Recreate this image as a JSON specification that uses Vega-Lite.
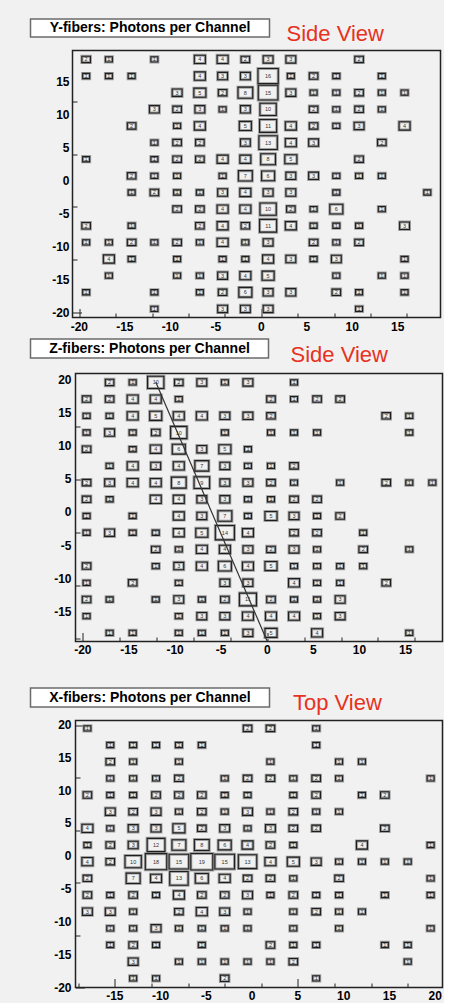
{
"$schema": "https://vega.github.io/schema/vega-lite/v6.json",
"background": "#f1f1f1",
"padding": {"left": 29.5, "top": 18, "right": 0, "bottom": 0},
"config": {
  "font": "Liberation Sans",
  "view": {"fill": "#f1f1f1", "stroke": "#222222", "strokeWidth": 1.5},
  "axis": {"domain": false, "grid": false, "labels": false, "tickColor": "#222222", "tickWidth": 1}
},
"datasets": {
  "yf": [
    {"x":-19.25,"y":18.35,"n":2},{"x":-16.75,"y":18.35,"n":1},{"x":-11.75,"y":18.35,"n":1},{"x":-6.75,"y":18.35,"n":4},{"x":-4.25,"y":18.35,"n":4},{"x":-1.75,"y":18.35,"n":2},{"x":0.75,"y":18.35,"n":3},{"x":3.25,"y":18.35,"n":3},{"x":10.75,"y":18.35,"n":2},
    {"x":-19.25,"y":15.83,"n":1},{"x":-16.75,"y":15.83,"n":1},{"x":-14.25,"y":15.83,"n":1},{"x":-6.75,"y":15.83,"n":4},{"x":-4.25,"y":15.83,"n":3},{"x":-1.75,"y":15.83,"n":3},{"x":0.75,"y":15.83,"n":16},{"x":3.25,"y":15.83,"n":1},{"x":5.75,"y":15.83,"n":2},{"x":8.25,"y":15.83,"n":1},{"x":13.25,"y":15.83,"n":1},
    {"x":-9.25,"y":13.31,"n":3},{"x":-6.75,"y":13.31,"n":5},{"x":-4.25,"y":13.31,"n":2},{"x":-1.75,"y":13.31,"n":8},{"x":0.75,"y":13.31,"n":15},{"x":3.25,"y":13.31,"n":3},{"x":5.75,"y":13.31,"n":1},{"x":8.25,"y":13.31,"n":1},{"x":10.75,"y":13.31,"n":2},{"x":13.25,"y":13.31,"n":1},{"x":15.75,"y":13.31,"n":1},
    {"x":-11.75,"y":10.79,"n":3},{"x":-9.25,"y":10.79,"n":2},{"x":-6.75,"y":10.79,"n":3},{"x":-4.25,"y":10.79,"n":1},{"x":-1.75,"y":10.79,"n":3},{"x":0.75,"y":10.79,"n":10},{"x":5.75,"y":10.79,"n":2},{"x":8.25,"y":10.79,"n":1},{"x":10.75,"y":10.79,"n":2},{"x":13.25,"y":10.79,"n":1},
    {"x":-14.25,"y":8.27,"n":2},{"x":-9.25,"y":8.27,"n":1},{"x":-6.75,"y":8.27,"n":4},{"x":-1.75,"y":8.27,"n":5},{"x":0.75,"y":8.27,"n":11},{"x":3.25,"y":8.27,"n":4},{"x":5.75,"y":8.27,"n":2},{"x":8.25,"y":8.27,"n":1},{"x":10.75,"y":8.27,"n":3},{"x":15.75,"y":8.27,"n":4},
    {"x":-11.75,"y":5.75,"n":1},{"x":-9.25,"y":5.75,"n":2},{"x":-6.75,"y":5.75,"n":2},{"x":-1.75,"y":5.75,"n":3},{"x":0.75,"y":5.75,"n":13},{"x":3.25,"y":5.75,"n":4},{"x":5.75,"y":5.75,"n":3},{"x":13.25,"y":5.75,"n":2},
    {"x":-19.25,"y":3.23,"n":1},{"x":-11.75,"y":3.23,"n":1},{"x":-9.25,"y":3.23,"n":2},{"x":-6.75,"y":3.23,"n":2},{"x":-4.25,"y":3.23,"n":4},{"x":-1.75,"y":3.23,"n":4},{"x":0.75,"y":3.23,"n":8},{"x":3.25,"y":3.23,"n":5},{"x":10.75,"y":3.23,"n":2},
    {"x":-14.25,"y":0.71,"n":2},{"x":-11.75,"y":0.71,"n":1},{"x":-9.25,"y":0.71,"n":1},{"x":-4.25,"y":0.71,"n":1},{"x":-1.75,"y":0.71,"n":7},{"x":0.75,"y":0.71,"n":6},{"x":3.25,"y":0.71,"n":3},{"x":5.75,"y":0.71,"n":3},{"x":8.25,"y":0.71,"n":1},{"x":10.75,"y":0.71,"n":1},{"x":13.25,"y":0.71,"n":1},
    {"x":-14.25,"y":-1.81,"n":1},{"x":-11.75,"y":-1.81,"n":2},{"x":-9.25,"y":-1.81,"n":1},{"x":-6.75,"y":-1.81,"n":1},{"x":-4.25,"y":-1.81,"n":3},{"x":-1.75,"y":-1.81,"n":4},{"x":0.75,"y":-1.81,"n":3},{"x":3.25,"y":-1.81,"n":3},{"x":8.25,"y":-1.81,"n":1},{"x":18.25,"y":-1.81,"n":1},
    {"x":-9.25,"y":-4.33,"n":2},{"x":-6.75,"y":-4.33,"n":2},{"x":-4.25,"y":-4.33,"n":4},{"x":-1.75,"y":-4.33,"n":4},{"x":0.75,"y":-4.33,"n":10},{"x":3.25,"y":-4.33,"n":2},{"x":5.75,"y":-4.33,"n":1},{"x":8.25,"y":-4.33,"n":6},{"x":13.25,"y":-4.33,"n":1},
    {"x":-19.25,"y":-6.85,"n":2},{"x":-14.25,"y":-6.85,"n":1},{"x":-6.75,"y":-6.85,"n":2},{"x":-4.25,"y":-6.85,"n":4},{"x":-1.75,"y":-6.85,"n":2},{"x":0.75,"y":-6.85,"n":11},{"x":3.25,"y":-6.85,"n":4},{"x":5.75,"y":-6.85,"n":1},{"x":8.25,"y":-6.85,"n":1},{"x":10.75,"y":-6.85,"n":1},{"x":15.75,"y":-6.85,"n":3},
    {"x":-19.25,"y":-9.37,"n":1},{"x":-16.75,"y":-9.37,"n":1},{"x":-14.25,"y":-9.37,"n":2},{"x":-11.75,"y":-9.37,"n":1},{"x":-9.25,"y":-9.37,"n":2},{"x":-6.75,"y":-9.37,"n":1},{"x":-4.25,"y":-9.37,"n":4},{"x":-1.75,"y":-9.37,"n":1},{"x":0.75,"y":-9.37,"n":3},{"x":5.75,"y":-9.37,"n":2},{"x":8.25,"y":-9.37,"n":1},{"x":10.75,"y":-9.37,"n":2},
    {"x":-16.75,"y":-11.89,"n":4},{"x":-14.25,"y":-11.89,"n":1},{"x":-9.25,"y":-11.89,"n":1},{"x":-4.25,"y":-11.89,"n":1},{"x":-1.75,"y":-11.89,"n":1},{"x":0.75,"y":-11.89,"n":4},{"x":3.25,"y":-11.89,"n":3},{"x":5.75,"y":-11.89,"n":1},{"x":8.25,"y":-11.89,"n":3},{"x":15.75,"y":-11.89,"n":1},
    {"x":-16.75,"y":-14.41,"n":1},{"x":-9.25,"y":-14.41,"n":1},{"x":-6.75,"y":-14.41,"n":1},{"x":-4.25,"y":-14.41,"n":3},{"x":-1.75,"y":-14.41,"n":4},{"x":0.75,"y":-14.41,"n":5},{"x":8.25,"y":-14.41,"n":1},{"x":13.25,"y":-14.41,"n":1},{"x":15.75,"y":-14.41,"n":1},
    {"x":-19.25,"y":-16.93,"n":1},{"x":-11.75,"y":-16.93,"n":1},{"x":-6.75,"y":-16.93,"n":1},{"x":-4.25,"y":-16.93,"n":2},{"x":-1.75,"y":-16.93,"n":6},{"x":0.75,"y":-16.93,"n":3},{"x":3.25,"y":-16.93,"n":3},{"x":8.25,"y":-16.93,"n":2},{"x":10.75,"y":-16.93,"n":1},{"x":15.75,"y":-16.93,"n":1},
    {"x":-11.75,"y":-19.45,"n":1},{"x":-4.25,"y":-19.45,"n":3},{"x":-1.75,"y":-19.45,"n":3},{"x":0.75,"y":-19.45,"n":3},{"x":10.75,"y":-19.45,"n":1}
  ],
  "zf": [
    {"x":-17.1,"y":19.65,"n":2},{"x":-14.6,"y":19.65,"n":1},{"x":-12.1,"y":19.65,"n":10},{"x":-9.6,"y":19.65,"n":2},{"x":-7.1,"y":19.65,"n":3},{"x":-4.6,"y":19.65,"n":1},{"x":-2.1,"y":19.65,"n":3},{"x":2.9,"y":19.65,"n":1},
    {"x":-19.6,"y":17.13,"n":2},{"x":-17.1,"y":17.13,"n":2},{"x":-14.6,"y":17.13,"n":4},{"x":-12.1,"y":17.13,"n":4},{"x":-9.6,"y":17.13,"n":1},{"x":0.4,"y":17.13,"n":2},{"x":2.9,"y":17.13,"n":1},{"x":5.4,"y":17.13,"n":2},{"x":7.9,"y":17.13,"n":2},
    {"x":-19.6,"y":14.6,"n":1},{"x":-17.1,"y":14.6,"n":1},{"x":-14.6,"y":14.6,"n":4},{"x":-12.1,"y":14.6,"n":5},{"x":-9.6,"y":14.6,"n":4},{"x":-7.1,"y":14.6,"n":4},{"x":-4.6,"y":14.6,"n":3},{"x":-2.1,"y":14.6,"n":3},{"x":0.4,"y":14.6,"n":2},{"x":12.9,"y":14.6,"n":2},{"x":15.4,"y":14.6,"n":1},
    {"x":-19.6,"y":12.08,"n":1},{"x":-17.1,"y":12.08,"n":3},{"x":-14.6,"y":12.08,"n":1},{"x":-12.1,"y":12.08,"n":2},{"x":-9.6,"y":12.08,"n":10},{"x":-4.6,"y":12.08,"n":1},{"x":0.4,"y":12.08,"n":1},{"x":2.9,"y":12.08,"n":1},{"x":5.4,"y":12.08,"n":1},{"x":15.4,"y":12.08,"n":1},
    {"x":-19.6,"y":9.56,"n":2},{"x":-14.6,"y":9.56,"n":1},{"x":-12.1,"y":9.56,"n":4},{"x":-9.6,"y":9.56,"n":6},{"x":-7.1,"y":9.56,"n":3},{"x":-4.6,"y":9.56,"n":5},{"x":-2.1,"y":9.56,"n":1},
    {"x":-17.1,"y":7.04,"n":1},{"x":-14.6,"y":7.04,"n":4},{"x":-12.1,"y":7.04,"n":3},{"x":-9.6,"y":7.04,"n":4},{"x":-7.1,"y":7.04,"n":7},{"x":-4.6,"y":7.04,"n":3},{"x":-2.1,"y":7.04,"n":1},{"x":0.4,"y":7.04,"n":1},{"x":2.9,"y":7.04,"n":2},
    {"x":-19.6,"y":4.51,"n":2},{"x":-17.1,"y":4.51,"n":3},{"x":-14.6,"y":4.51,"n":4},{"x":-12.1,"y":4.51,"n":4},{"x":-9.6,"y":4.51,"n":8},{"x":-7.1,"y":4.51,"n":9},{"x":-4.6,"y":4.51,"n":3},{"x":-2.1,"y":4.51,"n":3},{"x":0.4,"y":4.51,"n":2},{"x":2.9,"y":4.51,"n":1},{"x":7.9,"y":4.51,"n":1},{"x":12.9,"y":4.51,"n":2},{"x":15.4,"y":4.51,"n":1},{"x":17.9,"y":4.51,"n":1},
    {"x":-19.6,"y":1.99,"n":2},{"x":-17.1,"y":1.99,"n":1},{"x":-12.1,"y":1.99,"n":4},{"x":-9.6,"y":1.99,"n":4},{"x":-7.1,"y":1.99,"n":3},{"x":-4.6,"y":1.99,"n":3},{"x":-2.1,"y":1.99,"n":1},{"x":0.4,"y":1.99,"n":1},{"x":2.9,"y":1.99,"n":2},{"x":5.4,"y":1.99,"n":2},
    {"x":-19.6,"y":-0.53,"n":1},{"x":-14.6,"y":-0.53,"n":1},{"x":-9.6,"y":-0.53,"n":4},{"x":-7.1,"y":-0.53,"n":3},{"x":-4.6,"y":-0.53,"n":7},{"x":-2.1,"y":-0.53,"n":1},{"x":0.4,"y":-0.53,"n":5},{"x":2.9,"y":-0.53,"n":3},{"x":5.4,"y":-0.53,"n":1},{"x":7.9,"y":-0.53,"n":2},
    {"x":-19.6,"y":-3.06,"n":1},{"x":-17.1,"y":-3.06,"n":3},{"x":-14.6,"y":-3.06,"n":1},{"x":-12.1,"y":-3.06,"n":1},{"x":-9.6,"y":-3.06,"n":4},{"x":-7.1,"y":-3.06,"n":5},{"x":-4.6,"y":-3.06,"n":14},{"x":-2.1,"y":-3.06,"n":4},{"x":2.9,"y":-3.06,"n":2},{"x":5.4,"y":-3.06,"n":2},{"x":10.4,"y":-3.06,"n":1},
    {"x":-12.1,"y":-5.58,"n":2},{"x":-9.6,"y":-5.58,"n":1},{"x":-7.1,"y":-5.58,"n":4},{"x":-4.6,"y":-5.58,"n":4},{"x":-2.1,"y":-5.58,"n":3},{"x":0.4,"y":-5.58,"n":2},{"x":2.9,"y":-5.58,"n":3},{"x":5.4,"y":-5.58,"n":1},{"x":10.4,"y":-5.58,"n":2},{"x":15.4,"y":-5.58,"n":1},
    {"x":-19.6,"y":-8.1,"n":2},{"x":-12.1,"y":-8.1,"n":1},{"x":-9.6,"y":-8.1,"n":3},{"x":-7.1,"y":-8.1,"n":4},{"x":-4.6,"y":-8.1,"n":6},{"x":-2.1,"y":-8.1,"n":4},{"x":0.4,"y":-8.1,"n":5},{"x":2.9,"y":-8.1,"n":1},{"x":5.4,"y":-8.1,"n":1},{"x":7.9,"y":-8.1,"n":1},{"x":10.4,"y":-8.1,"n":1},
    {"x":-19.6,"y":-10.63,"n":1},{"x":-14.6,"y":-10.63,"n":2},{"x":-9.6,"y":-10.63,"n":1},{"x":-4.6,"y":-10.63,"n":3},{"x":-2.1,"y":-10.63,"n":3},{"x":2.9,"y":-10.63,"n":4},{"x":5.4,"y":-10.63,"n":1},{"x":7.9,"y":-10.63,"n":1},{"x":12.9,"y":-10.63,"n":2},
    {"x":-19.6,"y":-13.15,"n":2},{"x":-17.1,"y":-13.15,"n":1},{"x":-12.1,"y":-13.15,"n":1},{"x":-9.6,"y":-13.15,"n":3},{"x":-7.1,"y":-13.15,"n":1},{"x":-4.6,"y":-13.15,"n":2},{"x":-2.1,"y":-13.15,"n":11},{"x":0.4,"y":-13.15,"n":2},{"x":2.9,"y":-13.15,"n":1},{"x":5.4,"y":-13.15,"n":1},{"x":7.9,"y":-13.15,"n":3},
    {"x":-19.6,"y":-15.67,"n":1},{"x":-9.6,"y":-15.67,"n":1},{"x":-7.1,"y":-15.67,"n":3},{"x":-4.6,"y":-15.67,"n":3},{"x":-2.1,"y":-15.67,"n":4},{"x":0.4,"y":-15.67,"n":4},{"x":2.9,"y":-15.67,"n":4},{"x":5.4,"y":-15.67,"n":1},{"x":7.9,"y":-15.67,"n":3},
    {"x":-17.1,"y":-18.2,"n":1},{"x":-14.6,"y":-18.2,"n":1},{"x":-9.6,"y":-18.2,"n":1},{"x":-7.1,"y":-18.2,"n":1},{"x":-4.6,"y":-18.2,"n":1},{"x":-2.1,"y":-18.2,"n":3},{"x":0.4,"y":-18.2,"n":5},{"x":5.4,"y":-18.2,"n":4},{"x":15.4,"y":-18.2,"n":1}
  ],
  "zline": [{"x": -12.1, "y": 19.7}, {"x": 0.0, "y": -19.5}],
  "xf": [
    {"x":-18,"y":19.5,"n":1},{"x":-0.5,"y":19.5,"n":2},{"x":2,"y":19.5,"n":2},{"x":7,"y":19.5,"n":1},
    {"x":-15.5,"y":16.96,"n":1},{"x":-13,"y":16.96,"n":1},{"x":-10.5,"y":16.96,"n":1},{"x":-8,"y":16.96,"n":1},{"x":-5.5,"y":16.96,"n":1},{"x":7,"y":16.96,"n":1},
    {"x":-15.5,"y":14.42,"n":2},{"x":-13,"y":14.42,"n":1},{"x":-8,"y":14.42,"n":1},{"x":2,"y":14.42,"n":1},{"x":9.5,"y":14.42,"n":1},{"x":12,"y":14.42,"n":1},
    {"x":-15.5,"y":11.88,"n":1},{"x":-13,"y":11.88,"n":1},{"x":-10.5,"y":11.88,"n":1},{"x":-8,"y":11.88,"n":2},{"x":-3,"y":11.88,"n":1},{"x":-0.5,"y":11.88,"n":2},{"x":2,"y":11.88,"n":2},{"x":4.5,"y":11.88,"n":1},{"x":7,"y":11.88,"n":2},{"x":9.5,"y":11.88,"n":1},{"x":19.5,"y":11.88,"n":1},
    {"x":-18,"y":9.34,"n":2},{"x":-15.5,"y":9.34,"n":1},{"x":-13,"y":9.34,"n":1},{"x":-10.5,"y":9.34,"n":2},{"x":-8,"y":9.34,"n":2},{"x":-5.5,"y":9.34,"n":2},{"x":-3,"y":9.34,"n":1},{"x":-0.5,"y":9.34,"n":1},{"x":4.5,"y":9.34,"n":1},{"x":7,"y":9.34,"n":2},{"x":12,"y":9.34,"n":1},{"x":14.5,"y":9.34,"n":2},
    {"x":-15.5,"y":6.8,"n":3},{"x":-13,"y":6.8,"n":2},{"x":-10.5,"y":6.8,"n":3},{"x":-8,"y":6.8,"n":1},{"x":-5.5,"y":6.8,"n":2},{"x":-3,"y":6.8,"n":1},{"x":-0.5,"y":6.8,"n":3},{"x":2,"y":6.8,"n":1},{"x":4.5,"y":6.8,"n":2},{"x":7,"y":6.8,"n":1},{"x":9.5,"y":6.8,"n":1},
    {"x":-18,"y":4.26,"n":4},{"x":-15.5,"y":4.26,"n":1},{"x":-13,"y":4.26,"n":3},{"x":-10.5,"y":4.26,"n":3},{"x":-8,"y":4.26,"n":5},{"x":-5.5,"y":4.26,"n":2},{"x":-3,"y":4.26,"n":3},{"x":-0.5,"y":4.26,"n":1},{"x":2,"y":4.26,"n":3},{"x":4.5,"y":4.26,"n":2},{"x":7,"y":4.26,"n":2},{"x":14.5,"y":4.26,"n":2},
    {"x":-18,"y":1.72,"n":1},{"x":-15.5,"y":1.72,"n":2},{"x":-13,"y":1.72,"n":3},{"x":-10.5,"y":1.72,"n":12},{"x":-8,"y":1.72,"n":7},{"x":-5.5,"y":1.72,"n":8},{"x":-3,"y":1.72,"n":6},{"x":-0.5,"y":1.72,"n":4},{"x":2,"y":1.72,"n":2},{"x":4.5,"y":1.72,"n":1},{"x":12,"y":1.72,"n":4},{"x":19.5,"y":1.72,"n":1},
    {"x":-18,"y":-0.82,"n":4},{"x":-15.5,"y":-0.82,"n":2},{"x":-13,"y":-0.82,"n":10},{"x":-10.5,"y":-0.82,"n":18},{"x":-8,"y":-0.82,"n":15},{"x":-5.5,"y":-0.82,"n":19},{"x":-3,"y":-0.82,"n":15},{"x":-0.5,"y":-0.82,"n":13},{"x":2,"y":-0.82,"n":4},{"x":4.5,"y":-0.82,"n":5},{"x":7,"y":-0.82,"n":3},{"x":9.5,"y":-0.82,"n":1},{"x":12,"y":-0.82,"n":1},{"x":14.5,"y":-0.82,"n":1},{"x":17,"y":-0.82,"n":1},
    {"x":-18,"y":-3.36,"n":2},{"x":-13,"y":-3.36,"n":7},{"x":-10.5,"y":-3.36,"n":4},{"x":-8,"y":-3.36,"n":13},{"x":-5.5,"y":-3.36,"n":6},{"x":-3,"y":-3.36,"n":4},{"x":-0.5,"y":-3.36,"n":2},{"x":2,"y":-3.36,"n":2},{"x":4.5,"y":-3.36,"n":1},{"x":9.5,"y":-3.36,"n":2},{"x":19.5,"y":-3.36,"n":1},
    {"x":-18,"y":-5.9,"n":2},{"x":-15.5,"y":-5.9,"n":1},{"x":-13,"y":-5.9,"n":2},{"x":-10.5,"y":-5.9,"n":1},{"x":-8,"y":-5.9,"n":4},{"x":-5.5,"y":-5.9,"n":2},{"x":-3,"y":-5.9,"n":2},{"x":-0.5,"y":-5.9,"n":3},{"x":2,"y":-5.9,"n":1},{"x":4.5,"y":-5.9,"n":2},{"x":7,"y":-5.9,"n":1},{"x":9.5,"y":-5.9,"n":1},{"x":14.5,"y":-5.9,"n":1},{"x":19.5,"y":-5.9,"n":1},
    {"x":-18,"y":-8.44,"n":3},{"x":-15.5,"y":-8.44,"n":3},{"x":-13,"y":-8.44,"n":1},{"x":-8,"y":-8.44,"n":2},{"x":-5.5,"y":-8.44,"n":4},{"x":-3,"y":-8.44,"n":3},{"x":-0.5,"y":-8.44,"n":1},{"x":4.5,"y":-8.44,"n":1},{"x":7,"y":-8.44,"n":2},{"x":9.5,"y":-8.44,"n":1},{"x":12,"y":-8.44,"n":1},
    {"x":-15.5,"y":-10.98,"n":1},{"x":-13,"y":-10.98,"n":1},{"x":-10.5,"y":-10.98,"n":3},{"x":-8,"y":-10.98,"n":1},{"x":-5.5,"y":-10.98,"n":1},{"x":-3,"y":-10.98,"n":1},{"x":-0.5,"y":-10.98,"n":1},{"x":4.5,"y":-10.98,"n":1},{"x":9.5,"y":-10.98,"n":1},{"x":19.5,"y":-10.98,"n":1},
    {"x":-15.5,"y":-13.52,"n":1},{"x":-13,"y":-13.52,"n":2},{"x":-10.5,"y":-13.52,"n":1},{"x":-5.5,"y":-13.52,"n":1},{"x":2,"y":-13.52,"n":2},{"x":4.5,"y":-13.52,"n":1},{"x":7,"y":-13.52,"n":1},{"x":14.5,"y":-13.52,"n":1},{"x":17,"y":-13.52,"n":1},
    {"x":-13,"y":-16.06,"n":3},{"x":-8,"y":-16.06,"n":1},{"x":-5.5,"y":-16.06,"n":1},{"x":-3,"y":-16.06,"n":1},{"x":-0.5,"y":-16.06,"n":1},{"x":2,"y":-16.06,"n":1},{"x":4.5,"y":-16.06,"n":2},{"x":17,"y":-16.06,"n":1},
    {"x":-13,"y":-18.6,"n":1},{"x":-10.5,"y":-18.6,"n":1},{"x":-3,"y":-18.6,"n":2},{"x":7,"y":-18.6,"n":1}
  ],
  "lab1x": [{"v":-20},{"v":-15},{"v":-10},{"v":-5},{"v":0},{"v":5},{"v":10},{"v":15}],
  "lab1y": [{"v":-20},{"v":-15},{"v":-10},{"v":-5},{"v":0},{"v":5},{"v":10},{"v":15}],
  "lab2x": [{"v":-20},{"v":-15},{"v":-10},{"v":-5},{"v":0},{"v":5},{"v":10},{"v":15}],
  "lab2y": [{"v":-15},{"v":-10},{"v":-5},{"v":0},{"v":5},{"v":10},{"v":15},{"v":20}],
  "lab3x": [{"v":-15},{"v":-10},{"v":-5},{"v":0},{"v":5},{"v":10},{"v":15},{"v":20}],
  "lab3y": [{"v":-20},{"v":-15},{"v":-10},{"v":-5},{"v":0},{"v":5},{"v":10},{"v":15},{"v":20}]
},
"columns": 1,
"spacing": 2.5,
"concat": [
   {"width": 239, "height": 18,
    "view": {"fill": "#ffffff", "stroke": "#6b6b6b", "strokeWidth": 1.5},
    "title": {"text": "Side View", "orient": "bottom", "anchor": "start", "frame": "group", "align": "left", "baseline": "middle", "offset": 0, "dx": 256, "dy": -3.2, "font": "Liberation Sans", "fontSize": 22, "fontWeight": "normal", "color": "#e6321e"},
    "data": {"values": [{"t": "Y-fibers: Photons per Channel"}]},
    "mark": {"type": "text", "font": "Liberation Sans", "fontSize": 14, "fontWeight": "bold", "color": "#000000"},
    "encoding": {"text": {"field": "t"}}},
   {"spacing": 0, "hconcat": [
   {"width": 19.2, "height": 10, "data": {"values": []}, "mark": "point", "view": {"stroke": null, "fill": null}},
   {"width": 368, "height": 267,
    "layer": [
     {"data": {"name": "yf"},
      "mark": {"type": "point", "shape": "M-1,-0.75H1V0.75H-1Z", "filled": false, "stroke": "#a0a0a0", "strokeWidth": 3, "opacity": 1},
      "encoding": {
       "x": {"field": "x", "type": "quantitative", "scale": {"domain": [-20.75, 19.7], "nice": false, "zero": false},
             "axis": {"values": [-20,-19,-18,-17,-16,-15,-14,-13,-12,-11,-10,-9,-8,-7,-6,-5,-4,-3,-2,-1,0,1,2,3,4,5,6,7,8,9,10,11,12,13,14,15,16,17,18,19],
                      "tickSize": {"expr": "datum.value % 5 === 0 ? -9 : -4.5"},
                      "title": "\u00a0", "titleX": 0, "titleY": 14.9, "titleAlign": "left", "titleBaseline": "top", "titleFontSize": 2}},
       "y": {"field": "y", "type": "quantitative", "scale": {"domain": [-20.75, 19.7], "nice": false, "zero": false},
             "axis": {"values": [-20,-19,-18,-17,-16,-15,-14,-13,-12,-11,-10,-9,-8,-7,-6,-5,-4,-3,-2,-1,0,1,2,3,4,5,6,7,8,9,10,11,12,13,14,15,16,17,18,19],
                      "tickSize": {"expr": "datum.value % 5 === 0 ? -9 : -4.5"}, "title": null}},
       "size": {"field": "n", "type": "quantitative", "scale": {"domain": [1, 19], "range": [49, 484]}, "legend": null}
      }},
     {"data": {"name": "yf"},
      "mark": {"type": "point", "shape": "M-1,-0.75H1V0.75H-1Z", "filled": false, "stroke": "#1e1e1e", "strokeWidth": 1.1, "opacity": 1},
      "encoding": {"x": {"field": "x", "type": "quantitative"}, "y": {"field": "y", "type": "quantitative"}, "size": {"field": "n", "type": "quantitative", "legend": null}}},
     {"data": {"name": "yf"},
      "mark": {"type": "text", "fontSize": 5.5, "color": "#333333"},
      "encoding": {"x": {"field": "x", "type": "quantitative"}, "y": {"field": "y", "type": "quantitative"}, "text": {"field": "n", "type": "quantitative"}}},
     {"mark": {"type": "rule", "color": "#111111", "strokeWidth": 1.5}, "encoding": {"x": {"datum": 0}}},
     {"data": {"name": "lab1x"},
      "mark": {"type": "text", "align": "center", "baseline": "top", "dy": 4, "font": "Liberation Sans", "fontSize": 12, "fontWeight": "bold", "color": "#000000"},
      "encoding": {"x": {"field": "v", "type": "quantitative"}, "y": {"datum": -20.75}, "text": {"field": "v", "type": "nominal"}}},
     {"data": {"name": "lab1y"},
      "mark": {"type": "text", "align": "right", "baseline": "middle", "dx": -3, "font": "Liberation Sans", "fontSize": 12, "fontWeight": "bold", "color": "#000000"},
      "encoding": {"y": {"field": "v", "type": "quantitative"}, "x": {"datum": -20.75}, "text": {"field": "v", "type": "nominal"}}}
    ]}]},
   {"width": 238, "height": 19,
    "view": {"fill": "#ffffff", "stroke": "#6b6b6b", "strokeWidth": 1.5},
    "title": {"text": "Side View", "orient": "bottom", "anchor": "start", "frame": "group", "align": "left", "baseline": "middle", "offset": 0, "dx": 260, "dy": -3.3, "font": "Liberation Sans", "fontSize": 22, "fontWeight": "normal", "color": "#e6321e"},
    "data": {"values": [{"t": "Z-fibers: Photons per Channel"}]},
    "mark": {"type": "text", "font": "Liberation Sans", "fontSize": 14, "fontWeight": "bold", "color": "#000000"},
    "encoding": {"text": {"field": "t"}}},
   {"spacing": 0, "hconcat": [
   {"width": 22, "height": 10, "data": {"values": []}, "mark": "point", "view": {"stroke": null, "fill": null}},
   {"width": 367, "height": 268,
    "layer": [
     {"data": {"name": "zf"},
      "mark": {"type": "point", "shape": "M-1,-0.75H1V0.75H-1Z", "filled": false, "stroke": "#a0a0a0", "strokeWidth": 3, "opacity": 1},
      "encoding": {
       "x": {"field": "x", "type": "quantitative", "scale": {"domain": [-20.8, 19.0], "nice": false, "zero": false},
             "axis": {"values": [-20,-19,-18,-17,-16,-15,-14,-13,-12,-11,-10,-9,-8,-7,-6,-5,-4,-3,-2,-1,0,1,2,3,4,5,6,7,8,9,10,11,12,13,14,15,16,17,18],
                      "tickSize": {"expr": "datum.value % 5 === 0 ? -9 : -4.5"},
                      "title": "\u00a0", "titleX": 0, "titleY": 39.9, "titleAlign": "left", "titleBaseline": "top", "titleFontSize": 2}},
       "y": {"field": "y", "type": "quantitative", "scale": {"domain": [-19.5, 21.0], "nice": false, "zero": false},
             "axis": {"values": [-19,-18,-17,-16,-15,-14,-13,-12,-11,-10,-9,-8,-7,-6,-5,-4,-3,-2,-1,0,1,2,3,4,5,6,7,8,9,10,11,12,13,14,15,16,17,18,19,20],
                      "tickSize": {"expr": "datum.value % 5 === 0 ? -9 : -4.5"}, "title": null}},
       "size": {"field": "n", "type": "quantitative", "scale": {"domain": [1, 19], "range": [49, 484]}, "legend": null}
      }},
     {"data": {"name": "zf"},
      "mark": {"type": "point", "shape": "M-1,-0.75H1V0.75H-1Z", "filled": false, "stroke": "#1e1e1e", "strokeWidth": 1.1, "opacity": 1},
      "encoding": {"x": {"field": "x", "type": "quantitative"}, "y": {"field": "y", "type": "quantitative"}, "size": {"field": "n", "type": "quantitative", "legend": null}}},
     {"data": {"name": "zf"},
      "mark": {"type": "text", "fontSize": 5.5, "color": "#333333"},
      "encoding": {"x": {"field": "x", "type": "quantitative"}, "y": {"field": "y", "type": "quantitative"}, "text": {"field": "n", "type": "quantitative"}}},
     {"data": {"name": "zline"},
      "mark": {"type": "line", "color": "#333333", "strokeWidth": 1.2},
      "encoding": {"x": {"field": "x", "type": "quantitative"}, "y": {"field": "y", "type": "quantitative"}}},
     {"data": {"name": "lab2x"},
      "mark": {"type": "text", "align": "center", "baseline": "top", "dy": 3.5, "font": "Liberation Sans", "fontSize": 12, "fontWeight": "bold", "color": "#000000"},
      "encoding": {"x": {"field": "v", "type": "quantitative"}, "y": {"datum": -19.5}, "text": {"field": "v", "type": "nominal"}}},
     {"data": {"name": "lab2y"},
      "mark": {"type": "text", "align": "right", "baseline": "middle", "dx": -4, "font": "Liberation Sans", "fontSize": 12, "fontWeight": "bold", "color": "#000000"},
      "encoding": {"y": {"field": "v", "type": "quantitative"}, "x": {"datum": -20.8}, "text": {"field": "v", "type": "nominal"}}}
    ]}]},
   {"width": 239, "height": 19,
    "view": {"fill": "#ffffff", "stroke": "#6b6b6b", "strokeWidth": 1.5},
    "title": {"text": "Top View", "orient": "bottom", "anchor": "start", "frame": "group", "align": "left", "baseline": "middle", "offset": 0, "dx": 262.5, "dy": -4.3, "font": "Liberation Sans", "fontSize": 22, "fontWeight": "normal", "color": "#e6321e"},
    "data": {"values": [{"t": "X-fibers: Photons per Channel"}]},
    "mark": {"type": "text", "font": "Liberation Sans", "fontSize": 14, "fontWeight": "bold", "color": "#000000"},
    "encoding": {"text": {"field": "t"}}},
   {"spacing": 0, "hconcat": [
   {"width": 22, "height": 10, "data": {"values": []}, "mark": "point", "view": {"stroke": null, "fill": null}},
   {"width": 367, "height": 267,
    "layer": [
     {"data": {"name": "xf"},
      "mark": {"type": "point", "shape": "M-1,-0.75H1V0.75H-1Z", "filled": false, "stroke": "#a0a0a0", "strokeWidth": 3, "opacity": 1},
      "encoding": {
       "x": {"field": "x", "type": "quantitative", "scale": {"domain": [-19.3, 20.8], "nice": false, "zero": false},
             "axis": {"values": [-19,-18,-17,-16,-15,-14,-13,-12,-11,-10,-9,-8,-7,-6,-5,-4,-3,-2,-1,0,1,2,3,4,5,6,7,8,9,10,11,12,13,14,15,16,17,18,19,20],
                      "tickSize": {"expr": "datum.value % 5 === 0 ? -9 : -4.5"}, "title": null}},
       "y": {"field": "y", "type": "quantitative", "scale": {"domain": [-20.0, 20.7], "nice": false, "zero": false},
             "axis": {"values": [-20,-19,-18,-17,-16,-15,-14,-13,-12,-11,-10,-9,-8,-7,-6,-5,-4,-3,-2,-1,0,1,2,3,4,5,6,7,8,9,10,11,12,13,14,15,16,17,18,19,20],
                      "tickSize": {"expr": "datum.value % 5 === 0 ? -9 : -4.5"}, "title": null}},
       "size": {"field": "n", "type": "quantitative", "scale": {"domain": [1, 19], "range": [49, 484]}, "legend": null}
      }},
     {"data": {"name": "xf"},
      "mark": {"type": "point", "shape": "M-1,-0.75H1V0.75H-1Z", "filled": false, "stroke": "#1e1e1e", "strokeWidth": 1.1, "opacity": 1},
      "encoding": {"x": {"field": "x", "type": "quantitative"}, "y": {"field": "y", "type": "quantitative"}, "size": {"field": "n", "type": "quantitative", "legend": null}}},
     {"data": {"name": "xf"},
      "mark": {"type": "text", "fontSize": 5.5, "color": "#333333"},
      "encoding": {"x": {"field": "x", "type": "quantitative"}, "y": {"field": "y", "type": "quantitative"}, "text": {"field": "n", "type": "quantitative"}}},
     {"data": {"name": "lab3x"},
      "mark": {"type": "text", "align": "center", "baseline": "top", "dy": 3.5, "font": "Liberation Sans", "fontSize": 12, "fontWeight": "bold", "color": "#000000"},
      "encoding": {"x": {"field": "v", "type": "quantitative"}, "y": {"datum": -20.0}, "text": {"field": "v", "type": "nominal"}}},
     {"data": {"name": "lab3y"},
      "mark": {"type": "text", "align": "right", "baseline": "middle", "dx": -4, "font": "Liberation Sans", "fontSize": 12, "fontWeight": "bold", "color": "#000000"},
      "encoding": {"y": {"field": "v", "type": "quantitative"}, "x": {"datum": -19.3}, "text": {"field": "v", "type": "nominal"}}}
    ]}]}
]
}
